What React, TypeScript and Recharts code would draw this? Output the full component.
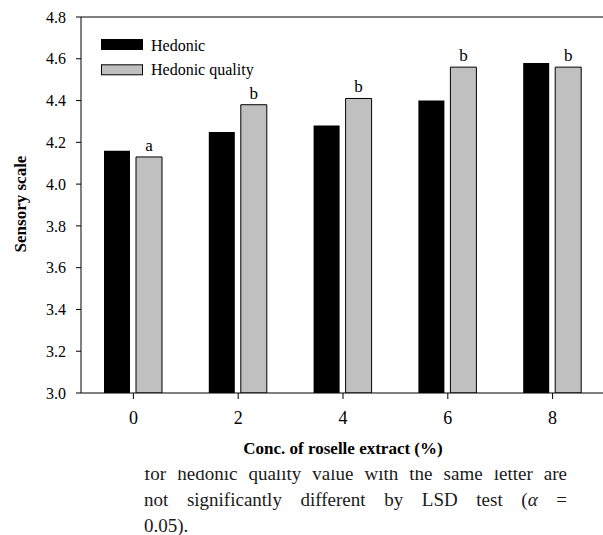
import React from 'react';
import { BarChart, Bar, XAxis, YAxis, Legend, LabelList, ReferenceLine } from 'recharts';

const categories = ['0', '2', '4', '6', '8'];
const hedonic = [4.16, 4.25, 4.28, 4.4, 4.58];
const hedonicQuality = [4.13, 4.38, 4.41, 4.56, 4.56];
const letters = ['a', 'b', 'b', 'b', 'b'];
const yTicks = [3.0, 3.2, 3.4, 3.6, 3.8, 4.0, 4.2, 4.4, 4.6, 4.8];
const seriesNames = ['Hedonic', 'Hedonic quality'];
const xTitle = 'Conc. of roselle extract (%)';
const yTitle = 'Sensory scale';
const noteLines = [
  'for hedonic quality value with the same letter are',
  'not significantly different by LSD test (',
  '0.05).',
];

const data = categories.map((c, i) => ({
  conc: c,
  hedonic: hedonic[i],
  hedonicQuality: hedonicQuality[i],
  letter: letters[i],
}));

const FONT = '"Liberation Serif", "Times New Roman", serif';

const YTitle = (props: any) => {
  const vb = props.viewBox || { x: 0, y: 0, width: 0, height: 0 };
  const cx = vb.x + 20;
  const cy = vb.y + vb.height / 2 - 1;
  return (
    <text
      x={cx}
      y={cy}
      transform={`rotate(-90, ${cx}, ${cy})`}
      textAnchor="middle"
      dominantBaseline="central"
      fontFamily={FONT}
      fontWeight="bold"
      fontSize={17}
      fill="#000"
    >
      {yTitle}
    </text>
  );
};

const XTitle = (props: any) => {
  const vb = props.viewBox || { x: 0, y: 0, width: 0, height: 0 };
  return (
    <text
      x={vb.x + vb.width / 2}
      y={vb.y + 61}
      textAnchor="middle"
      fontFamily={FONT}
      fontWeight="bold"
      fontSize={17}
      fill="#000"
    >
      {xTitle}
    </text>
  );
};

const renderLegend = (props: any) => {
  const payload = props.payload || [];
  return (
    <svg width={200} height={50} style={{ display: 'block' }}>
      {payload.map((p: any, i: number) => (
        <g key={i}>
          <rect
            x={0.5}
            y={3.5 + i * 25.3}
            width={41}
            height={10}
            fill={p.color}
            stroke="#000"
            strokeWidth={1}
          />
          <text x={50} y={15 + i * 24.3} fontFamily={FONT} fontSize={16} fill="#000">
            {p.value}
          </text>
        </g>
      ))}
    </svg>
  );
};

export default function App() {
  return (
    <div style={{ position: 'absolute', left: 0, top: 0, width: 603, height: 535, overflow: 'hidden', background: '#fff' }}>
      <BarChart
        width={605}
        height={535}
        data={data}
        margin={{ top: 17, right: 0, bottom: 82, left: 0 }}
        barGap={6}
        style={{ fontFamily: FONT }}
      >
        <ReferenceLine y={4.8} stroke="#000" strokeWidth={1} />
        <XAxis
          dataKey="conc"
          height={60}
          tickSize={6}
          tickMargin={12}
          axisLine={{ stroke: '#000' }}
          tickLine={{ stroke: '#000' }}
          tick={{ fontSize: 18, fill: '#000', fontFamily: FONT }}
          label={<XTitle />}
        />
        <YAxis
          width={81}
          domain={[3, 4.8]}
          ticks={yTicks}
          allowDataOverflow
          tickSize={5}
          tickMargin={10}
          tickFormatter={(v: number) => v.toFixed(1)}
          axisLine={{ stroke: '#000' }}
          tickLine={{ stroke: '#000' }}
          tick={{ fontSize: 16, fill: '#000', fontFamily: FONT }}
          label={<YTitle />}
        />
        <Legend
          layout="vertical"
          align="center"
          verticalAlign="middle"
          width={200}
          height={50}
          wrapperStyle={{ left: 101, top: 36, width: 200, height: 50 }}
          content={renderLegend}
        />
        <Bar dataKey="hedonic" name={seriesNames[0]} fill="#000000" barSize={26} isAnimationActive={false} />
        <Bar
          dataKey="hedonicQuality"
          name={seriesNames[1]}
          fill="#c0c0c0"
          stroke="#000"
          strokeWidth={1}
          barSize={26}
          isAnimationActive={false}
        >
          <LabelList
            dataKey="letter"
            position="top"
            offset={6}
            fill="#000"
            fontSize={17}
            fontFamily={FONT}
          />
        </Bar>
      </BarChart>
      <div
        style={{
          position: 'absolute',
          left: 144,
          top: 470,
          width: 423,
          height: 65,
          overflow: 'hidden',
          fontFamily: FONT,
          fontSize: 19,
          lineHeight: '26px',
          color: '#1a1a1a',
        }}
      >
        <div style={{ position: 'absolute', left: 0, top: -8.7, width: 423, textAlign: 'justify', textAlignLast: 'justify', whiteSpace: 'nowrap' as any }}>
          {noteLines[0]}
        </div>
        <div style={{ position: 'absolute', left: 0, top: 17.3, width: 423, textAlign: 'justify', textAlignLast: 'justify' }}>
          {noteLines[1]}
          <i>α</i> =
        </div>
        <div style={{ position: 'absolute', left: 0, top: 43.3, width: 423 }}>{noteLines[2]}</div>
      </div>
    </div>
  );
}
